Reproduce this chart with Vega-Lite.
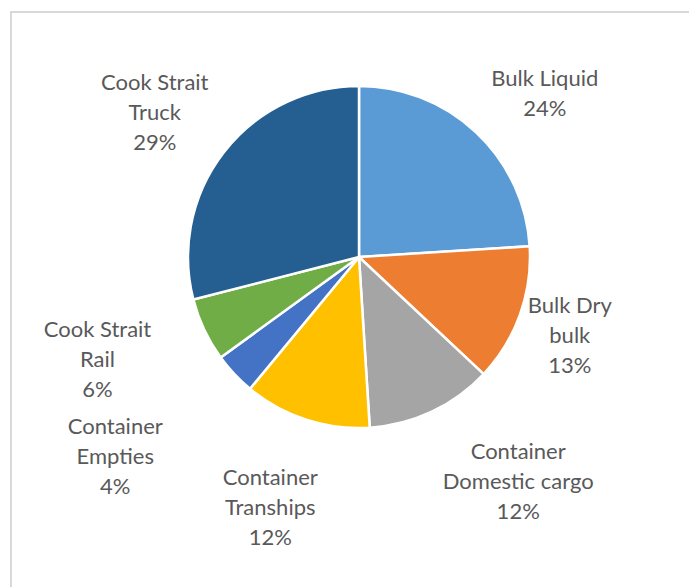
{
  "$schema": "https://vega.github.io/schema/vega-lite/v6.json",
  "width": 681,
  "height": 578,
  "autosize": {"type": "none"},
  "padding": {"left": 11, "top": 12, "right": -3, "bottom": -3},
  "background": "white",
  "view": {"stroke": "#D9D9D9", "strokeWidth": 2, "fill": "white"},
  "config": {"view": {"stroke": "#D9D9D9", "strokeWidth": 2}},
  "data": {
    "values": [
      {"order": 1, "category": "Bulk Liquid", "label": "Bulk Liquid", "share": 24},
      {"order": 2, "category": "Bulk Dry bulk", "label": "Bulk Dry\nbulk", "share": 13},
      {"order": 3, "category": "Container Domestic cargo", "label": "Container\nDomestic cargo", "share": 12},
      {"order": 4, "category": "Container Tranships", "label": "Container\nTranships", "share": 12},
      {"order": 5, "category": "Container Empties", "label": "Container\nEmpties", "share": 4},
      {"order": 6, "category": "Cook Strait Rail", "label": "Cook Strait\nRail", "share": 6},
      {"order": 7, "category": "Cook Strait Truck", "label": "Cook Strait\nTruck", "share": 29}
    ]
  },
  "transform": [
    {"calculate": "datum.label + '\\n' + datum.share + '%'", "as": "text"}
  ],
  "encoding": {
    "theta": {"field": "share", "type": "quantitative", "stack": true},
    "order": {"field": "order", "type": "quantitative"}
  },
  "layer": [
    {
      "mark": {"type": "arc", "outerRadius": 171, "stroke": "white", "strokeWidth": 2.5, "xOffset": 7.5, "yOffset": -44},
      "encoding": {
        "color": {
          "field": "category",
          "type": "nominal",
          "legend": null,
          "scale": {
            "domain": ["Bulk Liquid", "Bulk Dry bulk", "Container Domestic cargo", "Container Tranships", "Container Empties", "Cook Strait Rail", "Cook Strait Truck"],
            "range": ["#5B9BD5", "#ED7D31", "#A5A5A5", "#FFC000", "#4472C4", "#70AD47", "#255E91"]
          }
        }
      }
    },
    {
      "mark": {"type": "text", "radius": 257, "thetaOffset": 0.054, "dy": 0, "font": "Lato", "fontSize": 22, "color": "#595959", "lineBreak": "\n", "lineHeight": 30, "align": "center", "baseline": "middle", "xOffset": 7.5, "yOffset": -44},
      "encoding": {"text": {"condition": {"test": "datum.order === 1", "field": "text"}, "value": ""}}
    },
    {
      "mark": {"type": "text", "radius": 225, "thetaOffset": 0.012, "dy": -30, "font": "Lato", "fontSize": 22, "color": "#595959", "lineBreak": "\n", "lineHeight": 30, "align": "center", "baseline": "middle", "xOffset": 7.5, "yOffset": -44},
      "encoding": {"text": {"condition": {"test": "datum.order === 2", "field": "text"}, "value": ""}}
    },
    {
      "mark": {"type": "text", "radius": 276, "thetaOffset": -0.175, "dy": -30, "font": "Lato", "fontSize": 22, "color": "#595959", "lineBreak": "\n", "lineHeight": 30, "align": "center", "baseline": "middle", "xOffset": 7.5, "yOffset": -44},
      "encoding": {"text": {"condition": {"test": "datum.order === 3", "field": "text"}, "value": ""}}
    },
    {
      "mark": {"type": "text", "radius": 266, "thetaOffset": 0.026, "dy": -30, "font": "Lato", "fontSize": 22, "color": "#595959", "lineBreak": "\n", "lineHeight": 30, "align": "center", "baseline": "middle", "xOffset": 7.5, "yOffset": -44},
      "encoding": {"text": {"condition": {"test": "datum.order === 4", "field": "text"}, "value": ""}}
    },
    {
      "mark": {"type": "text", "radius": 315, "thetaOffset": 0.068, "dy": -30, "font": "Lato", "fontSize": 22, "color": "#595959", "lineBreak": "\n", "lineHeight": 30, "align": "center", "baseline": "middle", "xOffset": 7.5, "yOffset": -44},
      "encoding": {"text": {"condition": {"test": "datum.order === 5", "field": "text"}, "value": ""}}
    },
    {
      "mark": {"type": "text", "radius": 281, "thetaOffset": 0.065, "dy": -30, "font": "Lato", "fontSize": 22, "color": "#595959", "lineBreak": "\n", "lineHeight": 30, "align": "center", "baseline": "middle", "xOffset": 7.5, "yOffset": -44},
      "encoding": {"text": {"condition": {"test": "datum.order === 6", "field": "text"}, "value": ""}}
    },
    {
      "mark": {"type": "text", "radius": 250, "thetaOffset": -0.045, "dy": -30, "font": "Lato", "fontSize": 22, "color": "#595959", "lineBreak": "\n", "lineHeight": 30, "align": "center", "baseline": "middle", "xOffset": 7.5, "yOffset": -44},
      "encoding": {"text": {"condition": {"test": "datum.order === 7", "field": "text"}, "value": ""}}
    }
  ]
}
